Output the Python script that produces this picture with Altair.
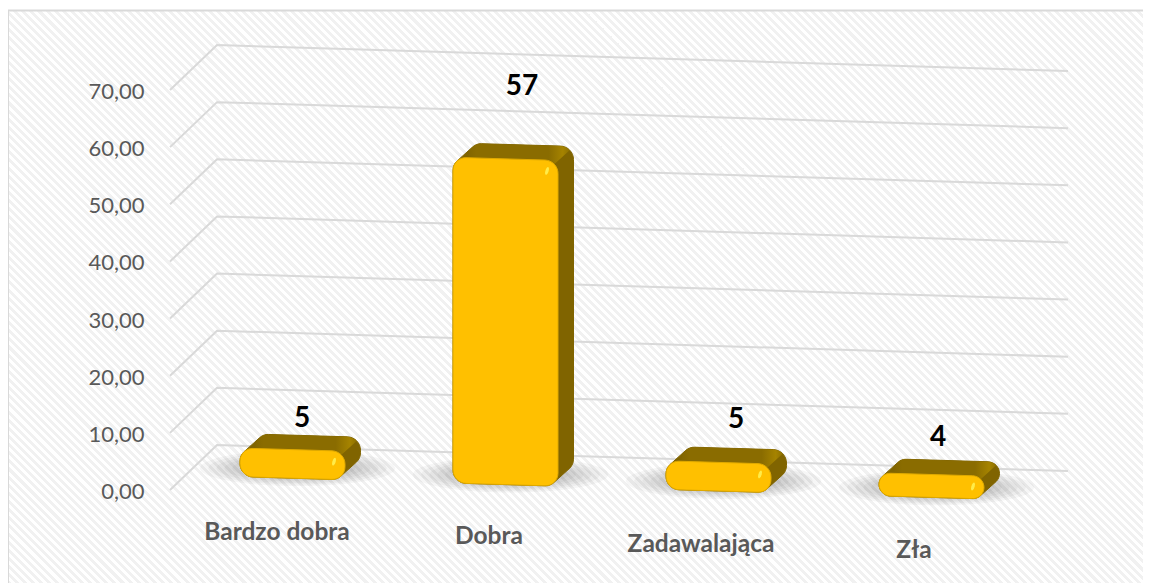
import math
import altair as alt
import pandas as pd

CATEGORIES = ["Bardzo dobra", "Dobra", "Zadawalająca", "Zła"]
VALUES = [5, 57, 5, 4]
VALUE_LABELS = ["5", "57", "5", "4"]
TICKS = [0, 10, 20, 30, 40, 50, 60, 70]

# --- projection of the pseudo 3D scene (page pixels) ---
UNIT = 400 / 70            # pixels per value unit
Y0 = 490                   # front plane zero line
WIDTH, HEIGHT = 1135, 575
X_MIN, Y_MIN = 8, 8
SLOPE = 0.03
BAR_X0, BAR_STEP, BAR_HW = 292.5, 213, 52.5
BASE_Y0 = 478.2
DX, DY = 15.5, -14
RADIUS = 13
WALL = dict(fx=170, fy=0, bx=217, by=-45, ex=1068, ey=-19)

def val(py):
    return (Y0 - py) / UNIT

def arc(cx, cy, r, a0, a1, n=8):
    return [(cx + r * math.cos(math.radians(a0 + (a1 - a0) * k / n)),
             cy + r * math.sin(math.radians(a0 + (a1 - a0) * k / n))) for k in range(n + 1)]

def geom(i):
    cx = BAR_X0 + BAR_STEP * i
    base = BASE_Y0 + SLOPE * (cx - BAR_X0)
    h = VALUES[i] * UNIT
    return cx, base, h

def tilt(points, cx):
    return [(x, y + SLOPE * (x - cx)) for x, y in points]

def outline(i, dx=0.0, dy=0.0, upper_only=False):
    cx, base, h = geom(i)
    r = min(RADIUS, h / 2)
    l, R, t, b = cx - BAR_HW + dx, cx + BAR_HW + dx, base - h + dy, base + dy
    if upper_only:
        pts = arc(l + r, t + r, r, 180, 270) + arc(R - r, t + r, r, 270, 315, 4)
    else:
        pts = (arc(l + r, t + r, r, 180, 270) + arc(R - r, t + r, r, 270, 360)
               + arc(R - r, b - r, r, 0, 90) + arc(l + r, b - r, r, 90, 180))
    return tilt(pts, cx + dx)

def hull(points):
    pts = sorted(set(points))
    def half(seq):
        out = []
        for p in seq:
            while len(out) > 1 and (out[-1][0]-out[-2][0])*(p[1]-out[-2][1]) - (out[-1][1]-out[-2][1])*(p[0]-out[-2][0]) <= 0:
                out.pop()
            out.append(p)
        return out[:-1]
    return half(pts) + half(pts[::-1])

def rows(points, group):
    closed = list(points) + [points[0]]
    return [{"x": x, "y": val(y), "g": group, "o": k} for k, (x, y) in enumerate(closed)]

hull_rows, top_rows, front_rows, spark_rows, shadow_rows = [], [], [], [], []
N_SHADOW = 16
for i in range(len(CATEGORIES)):
    cx, base, h = geom(i)
    hull_rows += rows(hull(outline(i) + outline(i, DX, DY)), i)
    top_rows += rows(outline(i, upper_only=True) + outline(i, DX, DY, upper_only=True)[::-1], i)
    front_rows += rows(outline(i), i)
    # small specular highlight near the front top right corner
    sx, sy = cx + BAR_HW - 11, base - h + 12
    spark_rows += rows([(sx + 1.7 * math.cos(math.radians(a)) - 1.0 * math.sin(math.radians(a)),
                         sy + 4.0 * math.sin(math.radians(a)))
                        for a in range(0, 360, 30)], i)
    # soft floor shadow: concentric translucent ellipses
    for k in range(1, N_SHADOW + 1):
        f = (k / N_SHADOW) ** 1.4
        shadow_rows += rows([(cx + 5 + 98 * f * math.cos(math.radians(a)),
                              base - 10 + 18 * f * math.sin(math.radians(a)))
                             for a in range(0, 360, 12)], f"{i}-{k}")

grid_rows = []
for v in TICKS:
    w = WALL
    for o, (px, py) in enumerate([(w["fx"], Y0 + w["fy"]), (w["bx"], Y0 + w["by"]), (w["ex"], Y0 + w["ey"])]):
        grid_rows.append({"x": px, "y": val(py) + v, "g": v, "o": o})

x_scale = alt.Scale(domain=[X_MIN, X_MIN + WIDTH], nice=False, zero=False)
y_scale = alt.Scale(domain=[val(Y_MIN + HEIGHT), val(Y_MIN)], nice=False, zero=False)
X = alt.X("x:Q", scale=x_scale, axis=None)
Y = alt.Y("y:Q", scale=y_scale, axis=alt.Axis(
    values=TICKS, orient="left", offset=-138, domain=False, ticks=False, grid=False, title=None,
    labelFont="Lato", labelFontSize=22, labelColor="#595959", zindex=1, labelPadding=2, labelOffset=1.5,
    labelExpr="replace(format(datum.value, '.2f'), '.', ',')"))

# hatched chart area (square so that the stripes stay at 45 degrees; the excess falls off the canvas)
stops = []
N_STRIPES = 284
for n in range(N_STRIPES):
    a, b, c = n / N_STRIPES, (n + 0.5) / N_STRIPES, (n + 1) / N_STRIPES
    stops += [alt.GradientStop(color="#ffffff", offset=a), alt.GradientStop(color="#ffffff", offset=b),
              alt.GradientStop(color="#f1f1f1", offset=b), alt.GradientStop(color="#f1f1f1", offset=c)]
hatch = alt.LinearGradient(gradient="linear", stops=stops, x1=0, y1=1, x2=1, y2=0)

panel = alt.Chart(pd.DataFrame([{"x": X_MIN, "x2": X_MIN + WIDTH + 20, "y": val(10.5), "y2": val(10.5 + WIDTH + 20)}])).mark_rect(
    fill=hatch, stroke="#d9d9d9", strokeWidth=2, clip=False
).encode(x=X, x2="x2:Q", y=Y, y2="y2:Q")

grid = alt.Chart(pd.DataFrame(grid_rows)).mark_line(color="#d9d9d9", strokeWidth=2).encode(
    x=X, y=Y, detail="g:N", order="o:Q")

def poly(data, **kw):
    return alt.Chart(pd.DataFrame(data)).mark_line(**kw).encode(x=X, y=Y, detail="g:N", order="o:Q")

shadow = poly(shadow_rows, fill="#000000", stroke=None, strokeWidth=0, fillOpacity=0.035)
side = poly(hull_rows, fill="#806400", stroke="#806400", strokeWidth=1)
top_grad = alt.LinearGradient(gradient="linear", x1=0, y1=0.5, x2=1, y2=0.5, stops=[
    alt.GradientStop(color="#735900", offset=0), alt.GradientStop(color="#8a6c00", offset=0.2),
    alt.GradientStop(color="#8a6c00", offset=0.82), alt.GradientStop(color="#a58300", offset=0.94),
    alt.GradientStop(color="#8f7100", offset=1)])
top = poly(top_rows, fill=top_grad, stroke=None, strokeWidth=0)
front = poly(front_rows, fill="#ffc000", stroke="#e0aa00", strokeWidth=1)
spark = poly(spark_rows, fill="#ffec4a", stroke=None, strokeWidth=0)

VALUE_POS = [(302, 419), (522, 87), (736, 420), (938, 438)]
CAT_POS = [(277, 532.5), (489, 536.5), (701, 544.5), (914, 550.5)]
value_text = alt.Chart(pd.DataFrame([
    {"x": p[0], "y": val(p[1]), "t": t} for p, t in zip(VALUE_POS, VALUE_LABELS)
])).mark_text(font="Lato", fontSize=28, fontWeight="bold", color="#000000", baseline="middle", align="center").encode(
    x=X, y=Y, text="t:N")
cat_text = alt.Chart(pd.DataFrame([
    {"x": p[0], "y": val(p[1]), "t": t} for p, t in zip(CAT_POS, CATEGORIES)
])).mark_text(font="Lato", fontSize=24.5, fontWeight="bold", color="#595959", baseline="middle", align="center").encode(
    x=X, y=Y, text="t:N")

chart = alt.layer(panel, grid, shadow, side, top, front, spark, value_text, cat_text).properties(
    width=WIDTH, height=HEIGHT, padding=0, autosize=alt.AutoSizeParams(type="none")
).configure_view(stroke=None)

chart.save("out.html", embed_options={"renderer": "svg", "actions": False})
